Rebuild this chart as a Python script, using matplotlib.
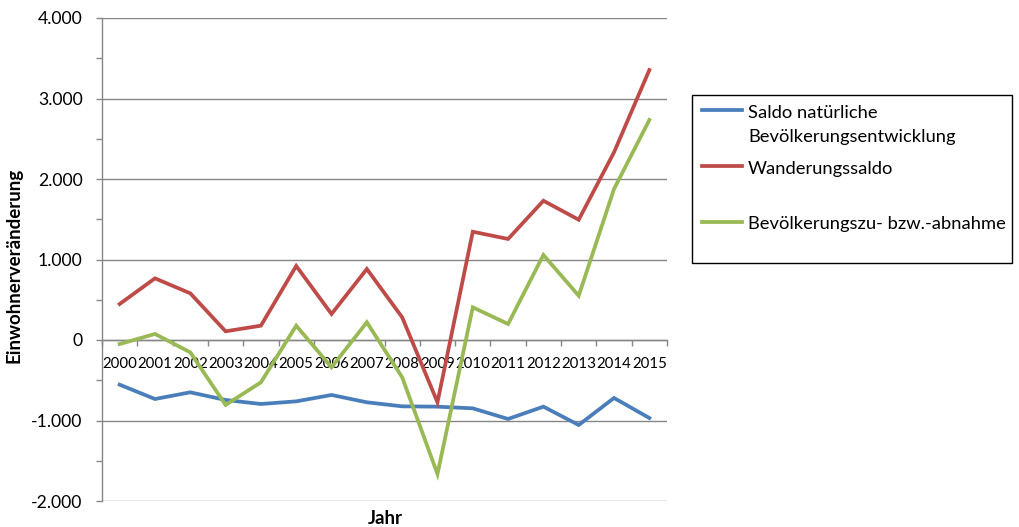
import matplotlib
matplotlib.use("Agg")
from matplotlib import pyplot as plt
from matplotlib.lines import Line2D
from matplotlib.patches import Rectangle
from matplotlib.ticker import MultipleLocator, FuncFormatter, FixedLocator
import numpy as np

years = [str(y) for y in range(2000, 2016)]

saldo_natuerlich = [-555, -733, -650, -745, -795, -762, -683, -774,
                    -824, -828, -849, -981, -828, -1056, -720, -969]
wanderungssaldo = [447, 766, 580, 108, 178, 920, 323, 882,
                   282, -774, 1345, 1255, 1730, 1494, 2332, 3354]
zu_abnahme = [-50, 75, -153, -807, -526, 178, -339, 220,
              -463, -1665, 406, 199, 1056, 550, 1876, 2733]

series = [saldo_natuerlich, wanderungssaldo, zu_abnahme]
labels = ["Saldo natürliche\nBevölkerungsentwicklung",
          "Wanderungssaldo",
          "Bevölkerungszu- bzw.-abnahme"]
colors = ["#4A7EBB", "#BE4B48", "#98B954"]


def de_fmt(v, pos):
    return f"{v:,.0f}".replace(",", ".")


def main():
    plt.rcParams['font.family'] = ['Lato', 'DejaVu Sans']
    W, H = 1019, 527
    fig = plt.figure(figsize=(W / 100, H / 100), dpi=100)
    ax = fig.add_axes([102 / W, 1 - 501 / H, (667 - 102) / W, (501 - 18) / H])

    x = np.arange(len(years))
    for vals, c in zip(series, colors):
        ax.plot(x, vals, color=c, lw=2.7, solid_joinstyle='miter', zorder=3)

    grid_c = "#868686"
    ax.set_xlim(-0.5, len(years) - 0.5)
    ax.set_ylim(-2000, 4000)
    ax.yaxis.set_major_locator(MultipleLocator(1000))
    ax.yaxis.set_minor_locator(MultipleLocator(500))
    ax.yaxis.set_major_formatter(FuncFormatter(de_fmt))
    ax.grid(axis='y', which='major', color=grid_c, lw=1.0, zorder=1)

    ax.set_xticks(x)
    ax.set_xticklabels(years)
    ax.xaxis.set_minor_locator(FixedLocator(np.arange(-0.5, len(years), 1.0)))

    for s in ['top', 'right']:
        ax.spines[s].set_visible(False)
    ax.spines['left'].set_color(grid_c)
    ax.spines['left'].set_linewidth(1.0)
    ax.spines['bottom'].set_position(('data', 0))
    ax.spines['bottom'].set_color(grid_c)
    ax.spines['bottom'].set_linewidth(1.0)

    ax.tick_params(axis='y', which='both', direction='out', length=4,
                   color=grid_c, width=1.0, labelsize=12.7, pad=10)
    ax.tick_params(axis='x', which='major', length=0, labelsize=10.8, pad=12)
    ax.tick_params(axis='x', which='minor', direction='out', length=4,
                   color=grid_c, width=1.0)

    fig.text(14 / W, 1 - 265 / H, "Einwohnerveränderung", rotation=90,
             ha='center', va='center', fontsize=13.5, fontweight='bold')
    fig.text(385 / W, 1 - 518 / H, "Jahr", ha='center', va='center',
             fontsize=13.5, fontweight='bold')

    # legend box, Excel style
    fig.add_artist(Rectangle((692 / W, 1 - 263 / H), 320 / W, 168 / H,
                             transform=fig.transFigure, fill=False,
                             edgecolor='black', lw=1.0))
    line_y = [110, 166, 222]
    base_y = [118, 174, 229]
    for lab, c, ly, by in zip(labels, colors, line_y, base_y):
        fig.add_artist(Line2D([702 / W, 742 / W], [1 - ly / H, 1 - ly / H],
                              transform=fig.transFigure, color=c, lw=2.7))
        for i, part in enumerate(lab.split("\n")):
            fig.text(748 / W, 1 - (by + 24 * i) / H, part, ha='left',
                     va='baseline', fontsize=13.2)

    fig.savefig("out.png", dpi=100)


if __name__ == '__main__':
    main()
